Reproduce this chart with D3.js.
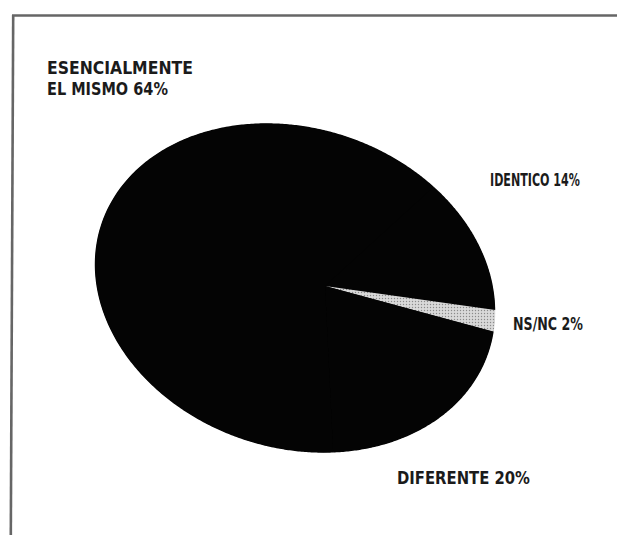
<!DOCTYPE html>
<html>
<head>
<meta charset="utf-8">
<script src="https://cdn.jsdelivr.net/npm/d3@7"></script>
<style>
  html, body { margin: 0; padding: 0; background: #fff; }
  svg { display: block; }
  text { font-family: "Liberation Sans Narrow", "DejaVu Sans Condensed", "Liberation Sans", sans-serif; fill: #1b1b1b; }
</style>
</head>
<body>
<script>
// Survey answers, listed clockwise around the pie
const categories = ["IDENTICO", "NS/NC", "DIFERENTE", "ESENCIALMENTE EL MISMO"];
const values = [14, 2, 20, 64];
// Label text, split into lines
const labelLines = [
  ["IDENTICO 14%"],
  ["NS/NC 2%"],
  ["DIFERENTE 20%"],
  ["ESENCIALMENTE", "EL MISMO 64%"]
];

const W = 617, H = 535;
const svg = d3.select("body").append("svg").attr("width", W).attr("height", H);

// Dotted fill for the small slice
const defs = svg.append("defs");
const pat = defs.append("pattern").attr("id", "dots")
  .attr("width", 3).attr("height", 3).attr("patternUnits", "userSpaceOnUse");
pat.append("rect").attr("width", 3).attr("height", 3).attr("fill", "#d9d9d9");
pat.append("circle").attr("cx", 1.5).attr("cy", 1.5).attr("r", 0.7).attr("fill", "#8a8a8a");

// Frame lines (top and left)
svg.append("line").attr("x1", 12).attr("y1", 15.5).attr("x2", W).attr("y2", 15.5)
  .attr("stroke", "#666").attr("stroke-width", 2.6);
svg.append("line").attr("x1", 13.2).attr("y1", 15).attr("x2", 10.8).attr("y2", H)
  .attr("stroke", "#666").attr("stroke-width", 2.6);

// Oval outline of the pie and the point the slices radiate from
const oval = { cx: 295, cy: 288, a: 204, b: 160, rot: 18 * Math.PI / 180 };
const apex = { x: 325, y: 286 };

// Point where a ray from the apex meets the oval's edge
function edgePoint(angle) {
  // d3 angles: 0 at 12 o'clock, increasing clockwise
  const dx = Math.sin(angle), dy = -Math.cos(angle);
  const c = Math.cos(-oval.rot), s = Math.sin(-oval.rot);
  const px = apex.x - oval.cx, py = apex.y - oval.cy;
  const ux = px * c - py * s, uy = px * s + py * c;
  const vx = dx * c - dy * s, vy = dx * s + dy * c;
  const A = vx * vx / (oval.a * oval.a) + vy * vy / (oval.b * oval.b);
  const B = 2 * (ux * vx / (oval.a * oval.a) + uy * vy / (oval.b * oval.b));
  const C = ux * ux / (oval.a * oval.a) + uy * uy / (oval.b * oval.b) - 1;
  const t = (-B + Math.sqrt(B * B - 4 * A * C)) / (2 * A);
  return [apex.x + t * dx, apex.y + t * dy];
}

const start = 47.6 * Math.PI / 180;
const pie = d3.pie().sort(null).value(d => d.value)
  .startAngle(start).endAngle(start + 2 * Math.PI);
const data = categories.map((c, i) => ({ name: c, value: values[i], lines: labelLines[i] }));
const arcs = pie(data);

const line = d3.line();
function slicePath(d) {
  const pts = [[apex.x, apex.y]];
  const n = Math.max(2, Math.ceil((d.endAngle - d.startAngle) / 0.01));
  for (let i = 0; i <= n; i++) {
    pts.push(edgePoint(d.startAngle + (d.endAngle - d.startAngle) * i / n));
  }
  return line(pts) + "Z";
}

// Solid backing so the black slices read as one mass without seams
svg.append("ellipse")
  .attr("transform", `translate(${oval.cx},${oval.cy}) rotate(${oval.rot * 180 / Math.PI})`)
  .attr("rx", oval.a - 0.5).attr("ry", oval.b - 0.5)
  .attr("fill", "#040404");

const fills = { "NS/NC": "url(#dots)" };
svg.append("g").selectAll("path").data(arcs).join("path")
  .attr("d", slicePath)
  .attr("fill", d => fills[d.data.name] || "#040404")
  .attr("stroke", "none");

// Labels placed around the oval; each line is squeezed horizontally to its set width
const labelPos = {
  "IDENTICO": { x: 490, y: 186, w: [90] },
  "NS/NC": { x: 513, y: 330, w: [70] },
  "DIFERENTE": { x: 397, y: 484, w: [133] },
  "ESENCIALMENTE EL MISMO": { x: 47, y: 74, w: [146, 121] }
};
const lg = svg.append("g");
data.forEach(d => {
  const p = labelPos[d.name];
  d.lines.forEach((t, i) => {
    const txt = lg.append("text")
      .attr("font-size", 18)
      .attr("font-weight", "bold")
      .text(t);
    const natural = txt.node().getComputedTextLength();
    const sx = p.w[i] / natural;
    txt.attr("transform", `translate(${p.x},${p.y + i * 21}) scale(${sx},1)`);
  });
});
</script>
</body>
</html>
